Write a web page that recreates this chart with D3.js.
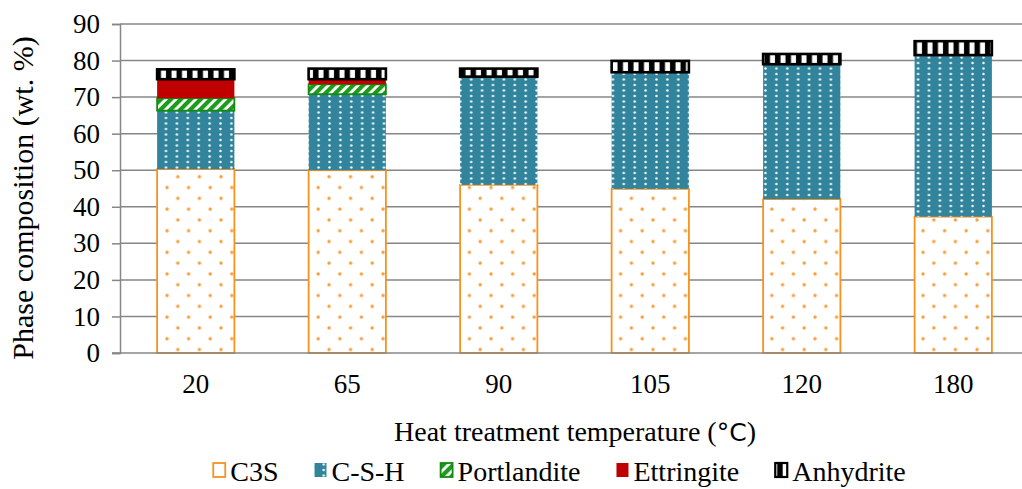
<!DOCTYPE html>
<html>
<head>
<meta charset="utf-8">
<script src="https://cdn.jsdelivr.net/npm/d3@7"></script>
<style>
  html, body { margin: 0; padding: 0; background: #fff; }
  svg { display: block; }
  svg text { font-family: "Liberation Serif", "Times New Roman", Times, "DejaVu Serif", serif; fill: #000; }
</style>
</head>
<body>
<svg id="chart" width="1022" height="489"></svg>
<script>
// Heat treatment temperatures (°C)
const temperatures = ["20", "65", "90", "105", "120", "180"];

// Phase contents (wt. %) for each temperature
const c3s         = [50.3, 50.0, 46.0, 44.9, 42.1, 37.3];
const csh         = [16.0, 20.8, 29.6, 31.9, 36.9, 44.2];
const portlandite = [3.4, 2.7, 0, 0, 0, 0];
const ettringite  = [5.2, 1.4, 0, 0, 0, 0];
const anhydrite   = [2.7, 2.9, 2.2, 3.1, 2.8, 3.8];

const phaseNames = ["C3S", "C-S-H", "Portlandite", "Ettringite", "Anhydrite"];
const yTicks = [0, 10, 20, 30, 40, 50, 60, 70, 80, 90];

const SERIF = "'Liberation Serif', 'Times New Roman', Times, 'DejaVu Serif', serif";

const svg = d3.select("#chart");
const defs = svg.append("defs");

// --- fill patterns ---
const ORANGE = "#F7921E";
const TEAL = "#31849B";
const GREEN = "#1E9A1E";
const RED = "#C00000";

// C3S: white with staggered orange dots
const pC3S = defs.append("pattern").attr("id", "pat-c3s")
  .attr("patternUnits", "userSpaceOnUse").attr("width", 21.6).attr("height", 21.6);
pC3S.append("rect").attr("width", 21.6).attr("height", 21.6).attr("fill", "#fff");
pC3S.append("circle").attr("cx", 5).attr("cy", 4).attr("r", 1.7).attr("fill", ORANGE).attr("opacity", 0.9);
pC3S.append("circle").attr("cx", 15.8).attr("cy", 14.8).attr("r", 1.7).attr("fill", ORANGE).attr("opacity", 0.9);

// C-S-H: teal with small white dots
const pCSH = defs.append("pattern").attr("id", "pat-csh")
  .attr("patternUnits", "userSpaceOnUse").attr("width", 10.9).attr("height", 11);
pCSH.append("rect").attr("width", 10.9).attr("height", 11).attr("fill", TEAL);
pCSH.append("circle").attr("cx", 2.5).attr("cy", 2.5).attr("r", 1.25).attr("fill", "#f2f8fa");
pCSH.append("circle").attr("cx", 2.5).attr("cy", 8).attr("r", 1.25).attr("fill", "#f2f8fa");

// Portlandite: green diagonal stripes
const pPort = defs.append("pattern").attr("id", "pat-port")
  .attr("patternUnits", "userSpaceOnUse").attr("width", 7).attr("height", 7)
  .attr("patternTransform", "rotate(45)");
pPort.append("rect").attr("width", 7).attr("height", 7).attr("fill", "#fff");
pPort.append("rect").attr("width", 4.2).attr("height", 7).attr("fill", GREEN);

// Anhydrite: black with white vertical blocks
const pAnh = defs.append("pattern").attr("id", "pat-anh")
  .attr("patternUnits", "userSpaceOnUse").attr("width", 10.5).attr("height", 10);
pAnh.append("rect").attr("width", 10.5).attr("height", 10).attr("fill", "#000");
pAnh.append("rect").attr("x", 3.5).attr("width", 5).attr("height", 10).attr("fill", "#fff");

const styles = [
  { fill: "url(#pat-c3s)", stroke: ORANGE, sw: 1.8 },
  { fill: "url(#pat-csh)", stroke: "none", sw: 0 },
  { fill: "url(#pat-port)", stroke: "#138A13", sw: 1.8 },
  { fill: RED, stroke: "none", sw: 0 },
  { fill: "url(#pat-anh)", stroke: "#000", sw: 2.6 }
];

// --- scales ---
const x = d3.scaleBand().domain(temperatures).range([120, 1029]).padding(0);
const y = d3.scaleLinear().domain([0, 90]).range([353, 24]);
const barW = x.bandwidth() * 0.51;

// --- gridlines ---
svg.append("g")
  .selectAll("line")
  .data(yTicks.filter(t => t > 0))
  .join("line")
  .attr("x1", 120).attr("x2", 1029)
  .attr("y1", d => y(d)).attr("y2", d => y(d))
  .attr("stroke", "#868686").attr("stroke-width", 1.5);

// --- stacked bars ---
const rows = temperatures.map((t, i) => ({
  temp: t, C3S: c3s[i], "C-S-H": csh[i], Portlandite: portlandite[i],
  Ettringite: ettringite[i], Anhydrite: anhydrite[i]
}));
const stack = d3.stack().keys(phaseNames)(rows);

stack.forEach((layer, k) => {
  const st = styles[k];
  svg.append("g")
    .selectAll("rect")
    .data(layer.filter(d => d[1] - d[0] > 0))
    .join("rect")
    .attr("x", d => x(d.data.temp) + (x.bandwidth() - barW) / 2)
    .attr("width", barW)
    .attr("y", d => y(d[1]))
    .attr("height", d => y(d[0]) - y(d[1]))
    .attr("fill", st.fill)
    .attr("stroke", st.stroke)
    .attr("stroke-width", st.sw);
});

// --- axes ---
const yAxis = d3.axisLeft(y).tickValues(yTicks).tickSize(8).tickPadding(12);
const gy = svg.append("g").attr("transform", "translate(120,0)").call(yAxis)
  .attr("font-family", SERIF).attr("font-size", 27);
gy.select(".domain").attr("stroke", "#868686").attr("stroke-width", 1.5);
gy.selectAll(".tick line").attr("stroke", "#868686").attr("stroke-width", 1.5);
gy.selectAll(".tick text").attr("fill", "#000");

const xAxis = d3.axisBottom(x).tickSize(0).tickPadding(21);
const gx = svg.append("g").attr("transform", "translate(0,353)").call(xAxis)
  .attr("font-family", SERIF).attr("font-size", 27);
gx.select(".domain").attr("d", "M112,0H1029").attr("stroke", "#868686").attr("stroke-width", 1.5);
gx.selectAll(".tick text").attr("fill", "#000");

// --- axis titles ---
svg.append("text")
  .attr("transform", "translate(33,198) rotate(-90)")
  .attr("text-anchor", "middle")
  .attr("font-family", SERIF)
  .attr("font-size", 30)
  .text("Phase composition (wt. %)");

const xt = svg.append("text")
  .attr("x", 575).attr("y", 441)
  .attr("text-anchor", "middle")
  .attr("font-family", SERIF)
  .attr("font-size", 28);
xt.append("tspan").text("Heat treatment temperature (");
xt.append("tspan").attr("font-family", "'DejaVu Sans', sans-serif").attr("font-size", 25).text("°C");
xt.append("tspan").text(")");

// --- legend ---
const legend = svg.append("g");
let cx = 0;
phaseNames.forEach((name, k) => {
  const g = legend.append("g");
  const st = styles[k];
  g.append("rect")
    .attr("x", cx + 1).attr("y", 463).attr("width", 12).attr("height", 14)
    .attr("fill", st.fill)
    .attr("stroke", (k === 1 || k === 3) ? "none" : st.stroke)
    .attr("stroke-width", k === 4 ? 2.2 : 1.8);
  const t = g.append("text")
    .attr("x", cx + 18).attr("y", 481)
    .attr("font-family", SERIF)
    .attr("font-size", 28)
    .text(name);
  const w = t.node().getComputedTextLength();
  cx += 18 + w + 35;
});
const totalW = cx - 35;
legend.attr("transform", `translate(${559 - totalW / 2},0)`);
</script>
</body>
</html>
